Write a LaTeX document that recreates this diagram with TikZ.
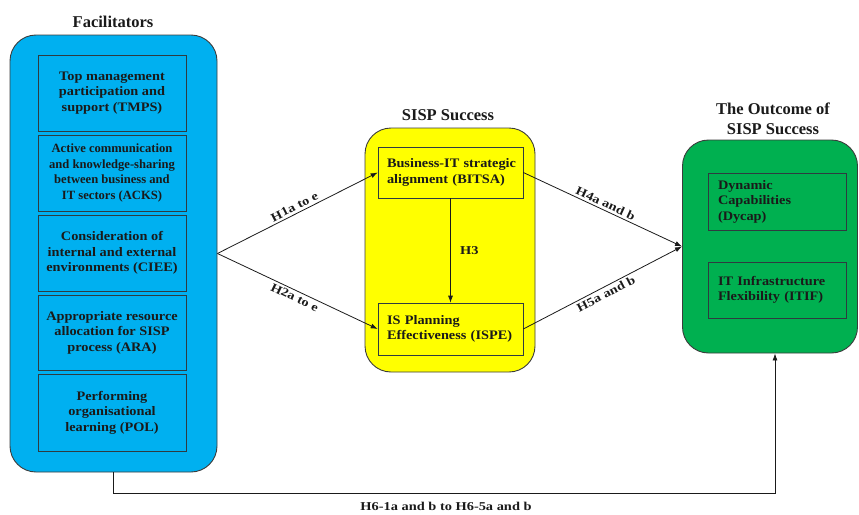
\documentclass[tikz,border=0pt]{standalone}
\usepackage{fontspec}
\setmainfont{Liberation Serif}
\newfontfamily\boxfont[FakeStretch=1.1]{Liberation Serif}
\newfontfamily\lblfont[FakeStretch=1.2]{Liberation Serif}
\usetikzlibrary{arrows.meta}
\definecolor{fblue}{HTML}{00B0F0}
\definecolor{fyellow}{HTML}{FFFF00}
\definecolor{fgreen}{HTML}{00B050}
\definecolor{ink}{HTML}{1A1A1A}
\definecolor{edge}{HTML}{2E3B40}
\tikzset{
  outerbox/.style={draw=ink!85, line width=0.9pt, rounded corners=26pt, inner sep=0pt},
  innerbox/.style={draw=edge, line width=0.6pt, inner sep=0pt, font=\boxfont\fontsize{13}{15.5}\selectfont\bfseries, text=ink},
  titletext/.style={font=\fontsize{16.5}{19.5}\selectfont\bfseries, text=ink, align=center},
  lbl/.style={font=\lblfont\fontsize{12}{14}\selectfont\bfseries, text=ink},
  arr/.style={draw=ink, line width=0.8pt, -{Latex[length=7pt,width=5pt]}}
}
\begin{document}
\begin{tikzpicture}[x=1pt,y=-1pt]
\useasboundingbox (0,0) rectangle (859,514);
% outer containers
\node[outerbox, fill=fblue, minimum width=207pt, minimum height=437pt] (fac) at (113.5,253.5) {};
\node[outerbox, fill=fyellow, minimum width=170pt, minimum height=244pt] (sisp) at (450,250) {};
\node[outerbox, fill=fgreen, minimum width=175pt, minimum height=213pt] (out) at (770,246.5) {};
% titles
\node[titletext] (tfac) at (113,22) {Facilitators};
\node[titletext] (tsisp) at (448,115) {SISP Success};
\node[titletext] (tout) at (773,119) {The Outcome of\\SISP Success};
% facilitator boxes
\node[innerbox, minimum width=148pt, minimum height=76pt, align=center] (tmps) at (112,93) {Top management\\participation and\\support (TMPS)};
\node[innerbox, minimum width=148pt, minimum height=76pt, align=center, font=\rmfamily\fontsize{12.6}{15.5}\selectfont\bfseries] (acks) at (112,173) {Active communication\\and knowledge-sharing\\between business and\\IT sectors (ACKS)};
\node[innerbox, minimum width=148pt, minimum height=76pt, align=center] (ciee) at (112,253) {Consideration of\\internal and external\\environments (CIEE)};
\node[innerbox, minimum width=148pt, minimum height=75pt, align=center] (ara) at (112,332.5) {Appropriate resource\\allocation for SISP\\process (ARA)};
\node[innerbox, minimum width=148pt, minimum height=77pt, align=center] (pol) at (112,412.5) {Performing\\organisational\\learning (POL)};
% SISP boxes
\node[innerbox, minimum width=145pt, minimum height=51pt, inner xsep=9pt, text width=127pt, align=left] (bitsa) at (450.5,172.5) {\mbox{Business-IT strategic}\\\mbox{alignment (BITSA)}};
\node[innerbox, minimum width=145pt, minimum height=52pt, inner xsep=9pt, text width=127pt, align=left] (ispe) at (450.5,329) {\mbox{IS Planning}\\\mbox{Effectiveness (ISPE)}};
% outcome boxes
\node[innerbox, minimum width=138pt, minimum height=57pt, inner xsep=10pt, text width=118pt, align=left] (dycap) at (777,201.5) {Dynamic\\Capabilities\\(Dycap)};
\node[innerbox, minimum width=138pt, minimum height=56pt, inner xsep=10pt, text width=118pt, align=left] (itif) at (777,290) {\mbox{IT Infrastructure}\\\mbox{Flexibility (ITIF)}};
% connectors
\coordinate (src) at (fac.east);
\coordinate (dst) at (out.west);
\draw[arr] (src) -- (bitsa.west) node[midway, above, sloped, lbl, yshift=-1pt] {H1a to e};
\draw[arr] (src) -- (ispe.west) node[midway, below, sloped, lbl, yshift=1pt] {H2a to e};
\draw[arr] (bitsa.south) -- (ispe.north) node[midway, right, lbl, xshift=6pt] {H3};
\draw[arr] (bitsa.east) -- (dst) node[midway, above, sloped, lbl, yshift=-1pt] {H4a and b};
\draw[arr] (ispe.east) -- (dst) node[midway, below, sloped, lbl, yshift=1pt] {H5a and b};
\draw[arr] (fac.south) -- ++(0,21) -| ([xshift=5pt]out.south);
\node[lbl] (h6) at (446,506) {H6-1a and b to H6-5a and b};
\end{tikzpicture}
\end{document}
